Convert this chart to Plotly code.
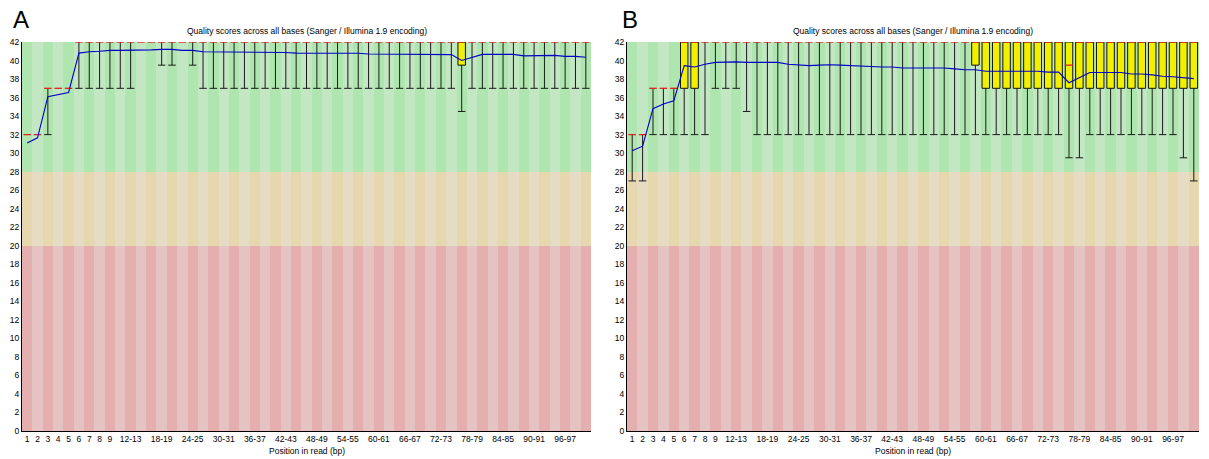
import plotly.graph_objects as go

# ---------------- data ----------------
categories = [str(i) for i in range(1, 10)] + [f"{i}-{i+1}" for i in range(10, 101, 2)]

tick_labels = ["1", "2", "3", "4", "5", "6", "7", "8", "9", "12-13", "18-19", "24-25",
               "30-31", "36-37", "42-43", "48-49", "54-55", "60-61", "66-67", "72-73",
               "78-79", "84-85", "90-91", "96-97"]

band_edges = [0, 20, 28, 42]

# Panel A
A_mean = [31.1, 31.65, 36.1, 36.35, 36.55, 40.8, 40.95, 41.0, 41.1, 41.1,
          41.1, 41.1, 41.15, 41.2, 41.2, 41.1, 41.1, 40.95, 40.95, 40.95,
          40.95, 40.95, 40.95, 40.87, 40.87, 40.87, 40.8, 40.8, 40.8, 40.8,
          40.8, 40.8, 40.78, 40.7, 40.7, 40.7, 40.64, 40.64, 40.64, 40.64,
          40.64, 40.64, 40.0, 40.35, 40.66, 40.66, 40.66, 40.66, 40.5, 40.5,
          40.56, 40.56, 40.45, 40.45, 40.35]
A_median = [32, 32, 37, 37, 37] + [42] * 50
A_q1 = [32, 32, 37, 37, 37] + [42] * 37 + [39.5] + [42] * 12
A_q3 = [32, 32, 37, 37, 37] + [42] * 50
A_low = ([32, 32, 32, 37, 37] + [37] * 6 + [42, 42, 39.5, 39.5, 42, 39.5]
         + [37] * 25 + [34.5] + [37] * 12)
A_high = list(A_q3)

# Panel B
B_mean = [30.25, 30.75, 34.8, 35.3, 35.65, 39.45, 39.3, 39.6, 39.8, 39.85,
          39.85, 39.8, 39.8, 39.8, 39.8, 39.6, 39.5, 39.45, 39.5, 39.55,
          39.5, 39.45, 39.35, 39.35, 39.3, 39.3, 39.2, 39.2, 39.2, 39.2,
          39.2, 39.1, 39.0, 39.0, 38.85, 38.85, 38.85, 38.85, 38.85, 38.85,
          38.75, 38.75, 37.6, 38.15, 38.7, 38.7, 38.7, 38.7, 38.55, 38.55,
          38.45, 38.3, 38.25, 38.15, 38.05]
B_median = [32, 32, 37, 37, 37] + [42] * 37 + [39.5] + [42] * 12
B_q1 = [32, 32, 37, 37, 37, 37, 37] + [42] * 26 + [39.5] + [37] * 21
B_q3 = [32, 32, 37, 37, 37] + [42] * 50
B_low = ([27, 27] + [32] * 6 + [37] * 3 + [34.5] + [32] * 30 + [29.5, 29.5]
         + [32] * 9 + [29.5, 27])
B_high = list(B_q3)

# ---------------- styles ----------------
FONT = "Liberation Sans"
band_colors = [("#e6afaf", "#e6c3c3"),   # bad  (dark, light)
               ("#e6d7af", "#e6dcc3"),   # ok
               ("#afe6af", "#c3e6c3")]   # good
BOX_W = 0.72
TITLE = "Quality scores across all bases (Sanger / Illumina 1.9 encoding)"

fig = go.Figure()
idx = list(range(len(categories)))


def add_panel(mean, median, q1, q3, low, high, xa, ya):
    # background stripes
    for b in range(3):
        lo, hi = band_edges[b], band_edges[b + 1]
        dark, light = band_colors[b]
        fig.add_trace(go.Bar(
            x=idx, y=[hi - lo] * len(idx), base=[lo] * len(idx), width=1,
            marker=dict(color=[dark if i % 2 == 0 else light for i in idx], line=dict(width=0)),
            xaxis=xa, yaxis=ya, showlegend=False, hoverinfo="skip"))
    # boxes (interquartile range)
    fig.add_trace(go.Bar(
        x=idx, y=[(b - a) if b > a else None for a, b in zip(q1, q3)], base=q1, width=BOX_W,
        marker=dict(color="#f0f000", line=dict(color="#111111", width=1)),
        xaxis=xa, yaxis=ya, showlegend=False, hoverinfo="skip"))
    # whiskers + caps
    wx, wy = [], []
    for i in idx:
        if low[i] < q1[i]:
            wx += [i, i, None, i - BOX_W / 2, i + BOX_W / 2, None]
            wy += [low[i], q1[i], None, low[i], low[i], None]
        if high[i] > q3[i]:
            wx += [i, i, None, i - BOX_W / 2, i + BOX_W / 2, None]
            wy += [q3[i], high[i], None, high[i], high[i], None]
    fig.add_trace(go.Scatter(x=wx, y=wy, mode="lines", line=dict(color="#1a1a1a", width=1),
                             xaxis=xa, yaxis=ya, showlegend=False, hoverinfo="skip"))
    # medians
    mx, my = [], []
    for i in idx:
        mx += [i - BOX_W / 2, i + BOX_W / 2, None]
        my += [median[i], median[i], None]
    fig.add_trace(go.Scatter(x=mx, y=my, mode="lines", line=dict(color="#dd2020", width=1.3),
                             xaxis=xa, yaxis=ya, showlegend=False, hoverinfo="skip"))
    # mean line
    fig.add_trace(go.Scatter(x=idx, y=mean, mode="lines", line=dict(color="#0000c8", width=1.1),
                             xaxis=xa, yaxis=ya, showlegend=False, hoverinfo="skip"))


add_panel(A_mean, A_median, A_q1, A_q3, A_low, A_high, "x", "y")
add_panel(B_mean, B_median, B_q1, B_q3, B_low, B_high, "x2", "y2")

W, H = 1209, 459
domA = [22 / W, 591 / W]
domB = [627 / W, 1199 / W]
ydom = [28 / H, 417 / H]
tickvals = [categories.index(t) for t in tick_labels]

xcommon = dict(range=[-0.5, len(categories) - 0.5], tickvals=tickvals, ticktext=tick_labels,
               tickangle=0, ticks="", showgrid=False, zeroline=False, showline=True,
               linecolor="black", linewidth=1, tickfont=dict(family=FONT, size=8.5, color="black"),
               fixedrange=True, automargin=False)
ycommon = dict(range=[0, 42], tickvals=list(range(0, 43, 2)), ticks="", showgrid=False,
               zeroline=False, showline=True, linecolor="black", linewidth=1,
               tickfont=dict(family=FONT, size=8.5, color="black"), fixedrange=True,
               automargin=False)

fig.update_layout(
    width=W, height=H, margin=dict(l=0, r=0, t=0, b=0, autoexpand=False),
    paper_bgcolor="white", plot_bgcolor="white",
    barmode="overlay", bargap=0, showlegend=False,
    xaxis=dict(domain=domA, anchor="y", **xcommon),
    yaxis=dict(domain=ydom, anchor="x", **ycommon),
    xaxis2=dict(domain=domB, anchor="y2", **xcommon),
    yaxis2=dict(domain=ydom, anchor="x2", **ycommon),
)

ann = []
for dom, letter, lx in [(domA, "A", 21), (domB, "B", 630)]:
    cx = (dom[0] + dom[1]) / 2
    ann.append(dict(text=TITLE, x=cx, y=(H - 31) / H, xref="paper", yref="paper",
                    xanchor="center", yanchor="middle", showarrow=False,
                    font=dict(family=FONT, size=8.5, color="black")))
    ann.append(dict(text="Position in read (bp)", x=cx, y=(H - 451) / H, xref="paper", yref="paper",
                    xanchor="center", yanchor="middle", showarrow=False,
                    font=dict(family=FONT, size=8.5, color="black")))
    ann.append(dict(text=letter, x=lx / W, y=(H - 19) / H, xref="paper", yref="paper",
                    xanchor="center", yanchor="middle", showarrow=False,
                    font=dict(family=FONT, size=24, color="black")))
fig.update_layout(annotations=ann)

fig.write_html("out.html", config={"displayModeBar": False, "staticPlot": True},
               post_script="document.body.style.margin='0';document.body.style.overflow='hidden';")
